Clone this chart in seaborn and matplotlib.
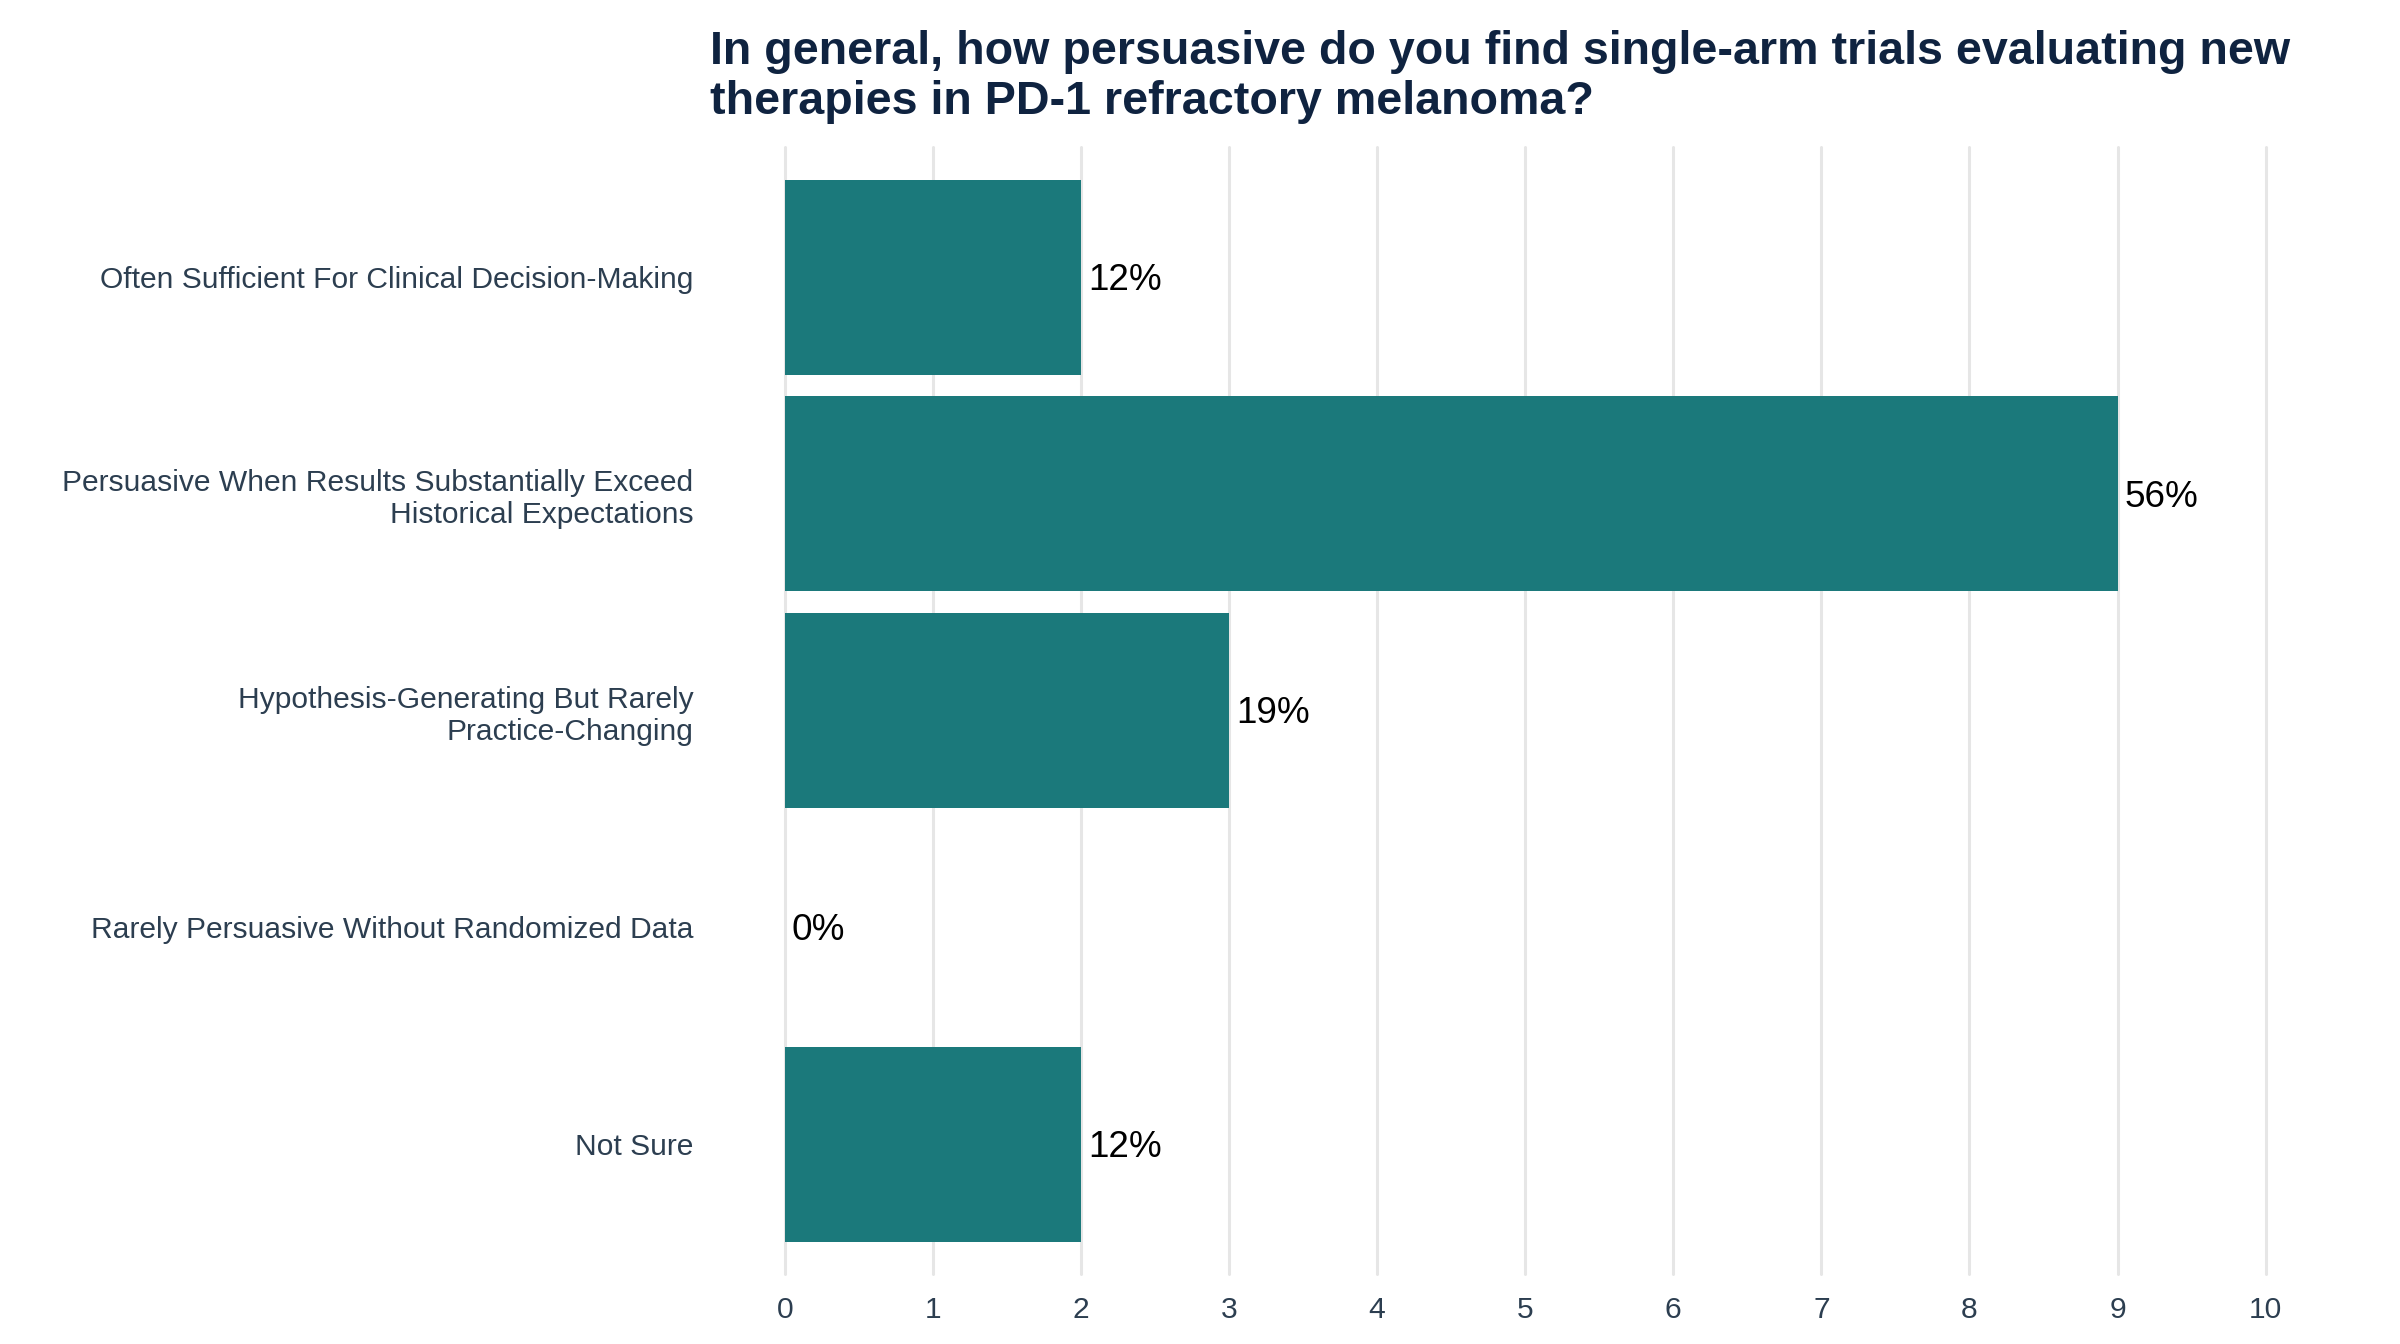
import pandas as pd
import matplotlib
matplotlib.use('Agg')
import matplotlib.pyplot as plt
import seaborn as sns

# Survey responses (counts) and the percentage labels shown on the bars
categories = [
    'Often Sufficient For Clinical Decision-Making',
    'Persuasive When Results Substantially Exceed\nHistorical Expectations',
    'Hypothesis-Generating But Rarely\nPractice-Changing',
    'Rarely Persuasive Without Randomized Data',
    'Not Sure',
]
counts = [2, 9, 3, 0, 2]
pct_labels = ['12%', '56%', '19%', '0%', '12%']
x_ticks = list(range(0, 11))

title = ('In general, how persuasive do you find single-arm trials evaluating new\n'
         'therapies in PD-1 refractory melanoma?')

bar_color = '#1b797b'
text_color = '#2c3e50'
title_color = '#0f2340'

sns.set_theme(style='white')
plt.rcParams['font.family'] = ['Liberation Sans', 'DejaVu Sans']

df = pd.DataFrame({'category': categories, 'count': counts})

fig = plt.figure(figsize=(12, 6.72), dpi=200)
ax = fig.add_axes([0.327, 0.052, 0.617, 0.8386])

sns.barplot(data=df, x='count', y='category', orient='h', color=bar_color,
            width=0.9, saturation=1, linewidth=0, ax=ax, zorder=2)

ax.set_xlim(0, 10)
ax.set_ylim(4.6, -0.6)
ax.set_xticks(x_ticks)
ax.set_xticklabels([str(t) for t in x_ticks])
ax.xaxis.grid(True, color='#e6e6e6', linewidth=1.1, zorder=0)
for line in ax.get_xgridlines():
    line.set_clip_on(False)
ax.yaxis.grid(False)
ax.set_xlabel('')
ax.set_ylabel('')
sns.despine(ax=ax, left=True, bottom=True, top=True, right=True)

ax.tick_params(axis='x', length=0, pad=8, labelsize=10.8, labelcolor=text_color)
ax.tick_params(axis='y', length=0, pad=33, labelsize=10.8, labelcolor=text_color)

# value labels next to each bar
for i, (c, lab) in enumerate(zip(counts, pct_labels)):
    ax.annotate(lab, xy=(c, i), xytext=(2.5, -1.2), textcoords='offset points',
                ha='left', va='center', fontsize=13.3, color='black')

fig.text(0.296, 0.978, title, ha='left', va='top', fontsize=16.8,
         fontweight='bold', color=title_color, linespacing=1.2)

fig.savefig('out.png', dpi=200)
